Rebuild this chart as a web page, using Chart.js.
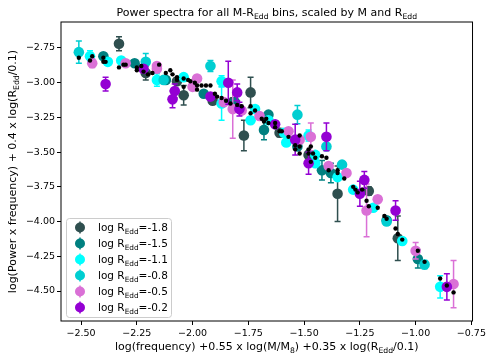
<!DOCTYPE html>
<html>
<head>
<meta charset="utf-8">
<script src="https://cdn.jsdelivr.net/npm/chart.js@4/dist/chart.umd.min.js"></script>
<style>
	html, body { margin: 0; padding: 0; background: #fff; }
</style>
</head>
<body>
<canvas id="chart" width="489" height="358"></canvas>
<script>
// axis limits and ticks
const xMin = -2.59, xMax = -0.745;
const yMin = -4.716, yMax = -2.563;
const xTicks = [-2.5, -2.25, -2.0, -1.75, -1.5, -1.25, -1.0, -0.75];
const yTicks = [-2.75, -3.0, -3.25, -3.5, -3.75, -4.0, -4.25, -4.5];

// log REdd = -1.8
const r18X = [-2.33, -2.21, -2.07, -2.04, -1.91, -1.82, -1.74, -1.77, -1.61, -1.48, -1.35, -1.21, -1.08];
const r18Y = [-2.72, -2.93, -2.99, -3.09, -3.13, -3.14, -3.07, -3.38, -3.36, -3.52, -3.80, -3.78, -4.12];
const r18Err = [0.05, 0.05, 0.02, 0.07, 0.02, 0.03, 0.11, 0.11, 0.03, 0.03, 0.20, 0.03, 0.16];

// log REdd = -1.5
const r15X = [-2.40, -2.26, -2.12, -1.95, -1.81, -1.66, -1.68, -1.53, -1.42, -1.38, -1.13, -0.99];
const r15Y = [-2.81, -2.86, -2.98, -3.08, -3.14, -3.23, -3.34, -3.46, -3.63, -3.65, -3.99, -4.27];
const r15Err = [0.02, 0.02, 0.02, 0.02, 0.02, 0.02, 0.07, 0.02, 0.07, 0.07, 0.02, 0.065];

// log REdd = -1.1
const r11X = [-2.46, -2.38, -2.32, -2.16, -2.04, -1.87, -1.87, -1.74, -1.72, -1.66, -1.59, -1.58, -1.48, -1.45, -1.45, -1.35, -1.28, -1.19, -1.06, -0.89];
const r11Y = [-2.81, -2.85, -2.84, -2.98, -2.96, -2.99, -3.15, -3.27, -3.19, -3.27, -3.36, -3.43, -3.38, -3.52, -3.58, -3.68, -3.77, -3.90, -4.14, -4.47];
const r11Err = [0.04, 0.02, 0.02, 0.045, 0.02, 0.04, 0.12, 0.02, 0.02, 0.02, 0.02, 0.02, 0.04, 0.02, 0.02, 0.02, 0.02, 0.02, 0.02, 0.08];

// log REdd = -0.8
const r08X = [-2.51, -2.21, -2.13, -1.92, -1.53, -1.40, -1.33, -1.13, -0.96];
const r08Y = [-2.78, -2.85, -2.98, -2.88, -3.23, -3.46, -3.59, -4.00, -4.31];
const r08Err = [0.08, 0.06, 0.02, 0.04, 0.065, 0.02, 0.02, 0.02, 0.03];

// log REdd = -0.5
const r05X = [-2.45, -2.30, -2.16, -2.16, -2.00, -1.98, -1.82, -1.86, -1.78, -1.70, -1.57, -1.52, -1.47, -1.39, -1.31, -1.22, -1.17, -1.00, -0.83];
const r05Y = [-2.86, -2.86, -2.88, -2.90, -3.03, -2.97, -3.19, -3.14, -3.20, -3.24, -3.35, -3.41, -3.39, -3.60, -3.65, -3.92, -3.84, -4.21, -4.45];
const r05Err = [0.03, 0.02, 0.02, 0.02, 0.02, 0.02, 0.21, 0.02, 0.02, 0.02, 0.02, 0.02, 0.1, 0.02, 0.02, 0.19, 0.02, 0.06, 0.17];

// log REdd = -0.2
const r02X = [-2.39, -2.22, -2.08, -2.09, -1.92, -1.84, -1.80, -1.79, -1.63, -1.54, -1.48, -1.40, -1.23, -1.25, -1.09, -0.86];
const r02Y = [-3.01, -2.90, -3.06, -3.12, -3.10, -3.00, -3.07, -3.19, -3.30, -3.41, -3.58, -3.39, -3.70, -3.80, -3.92, -4.47];
const r02Err = [0.05, 0.02, 0.05, 0.06, 0.02, 0.155, 0.06, 0.05, 0.02, 0.11, 0.08, 0.1, 0.06, 0.09, 0.07, 0.095];

// small black points
const modelX = [-2.51, -2.46, -2.45, -2.40, -2.39, -2.40, -2.33, -2.31, -2.30, -2.25, -2.23, -2.25, -2.22, -2.20, -2.18, -2.15,
	-2.12, -2.10, -2.09, -2.07, -2.07, -2.04, -2.02, -2.01, -2.04, -1.99, -1.98, -1.96, -1.94, -1.92, -1.98, -1.90, -1.89,
	-1.87, -1.85, -1.83, -1.80, -1.78, -1.74, -1.74, -1.72, -1.69, -1.68, -1.67, -1.66, -1.63, -1.63, -1.61, -1.60, -1.57,
	-1.52, -1.54, -1.52, -1.54, -1.52, -1.48, -1.47, -1.48, -1.46, -1.47, -1.45, -1.42, -1.40, -1.39, -1.35, -1.35, -1.32,
	-1.28, -1.27, -1.26, -1.24, -1.22, -1.21, -1.17, -1.14, -1.13, -1.09, -1.08, -1.06, -0.99, -0.96, -0.89, -0.86, -0.83];
const modelY = [-2.82, -2.84, -2.81, -2.82, -2.85, -2.85, -2.89, -2.87, -2.87, -2.89, -2.88, -2.91, -2.92, -2.94, -2.93, -2.87,
	-2.93, -2.91, -2.94, -2.96, -2.98, -2.97, -2.98, -2.99, -3.03, -3.00, -3.02, -3.02, -3.02, -3.02, -3.05, -3.08, -3.10,
	-3.11, -3.13, -3.15, -3.16, -3.17, -3.22, -3.17, -3.20, -3.26, -3.28, -3.26, -3.29, -3.29, -3.32, -3.35, -3.35, -3.39,
	-3.38, -3.45, -3.46, -3.48, -3.51, -3.48, -3.46, -3.51, -3.51, -3.57, -3.54, -3.53, -3.54, -3.63, -3.63, -3.65, -3.69,
	-3.75, -3.77, -3.79, -3.77, -3.85, -3.89, -3.90, -3.96, -3.98, -4.05, -4.09, -4.13, -4.21, -4.29, -4.41, -4.46, -4.51];

const seriesLabels = ["-1.8", "-1.5", "-1.1", "-0.8", "-0.5", "-0.2"];
const seriesColors = ["#2F4F4F", "#008080", "#00FFFF", "#00CED1", "#DA70D6", "#9400D3"];

const FONT = '"DejaVu Sans", sans-serif';

function toPoints(xs, ys) {
	return xs.map((x, i) => ({ x: x, y: ys[i] }));
}

function fmt(v) {
	return v.toFixed(2).replace("-", "\u2212");
}

// draws text with subscript parts: [[text, isSub], ...]
function richText(ctx, parts, x, y, size, align) {
	let w = 0;
	parts.forEach((p) => {
		ctx.font = (p[1] ? size * 0.7 : size) + "px " + FONT;
		w += ctx.measureText(p[0]).width;
	});
	let cx = align === "center" ? x - w / 2 : x;
	ctx.textAlign = "left";
	ctx.textBaseline = "alphabetic";
	parts.forEach((p) => {
		const s = p[1] ? size * 0.7 : size;
		ctx.font = s + "px " + FONT;
		ctx.fillText(p[0], cx, p[1] ? y + size * 0.25 : y);
		cx += ctx.measureText(p[0]).width;
	});
}

const errorBars = {
	id: "errorBars",
	beforeDatasetDraw(chart, args) {
		const ds = chart.data.datasets[args.index];
		if (!ds.errors) return;
		const ctx = chart.ctx;
		const xs = chart.scales.x, ys = chart.scales.y;
		ctx.save();
		ctx.strokeStyle = ds.backgroundColor;
		ctx.lineWidth = 1.5;
		ds.data.forEach((p, i) => {
			const px = xs.getPixelForValue(p.x);
			const top = ys.getPixelForValue(p.y + ds.errors[i]);
			const bot = ys.getPixelForValue(p.y - ds.errors[i]);
			ctx.beginPath();
			ctx.moveTo(px, top);
			ctx.lineTo(px, bot);
			ctx.moveTo(px - 3, top);
			ctx.lineTo(px + 3, top);
			ctx.moveTo(px - 3, bot);
			ctx.lineTo(px + 3, bot);
			ctx.stroke();
		});
		ctx.restore();
	},
};

const decorations = {
	id: "decorations",
	afterDraw(chart) {
		const ctx = chart.ctx;
		const a = chart.chartArea;
		ctx.save();
		// frame
		ctx.strokeStyle = "#000";
		ctx.lineWidth = 1;
		ctx.strokeRect(a.left, a.top, a.right - a.left, a.bottom - a.top);

		ctx.fillStyle = "#000";
		// title
		richText(ctx, [["Power spectra for all M-R", false], ["Edd", true], [" bins, scaled by M and R", false], ["Edd", true]],
			(a.left + a.right) / 2, 16, 11, "center");
		// x label
		richText(ctx, [["log(frequency) +0.55 x log(M/M", false], ["8", true], [") +0.35 x log(R", false], ["Edd", true], ["/0.1)", false]],
			(a.left + a.right) / 2, 350, 11, "center");
		// y label
		ctx.save();
		ctx.translate(16, (a.top + a.bottom) / 2);
		ctx.rotate(-Math.PI / 2);
		richText(ctx, [["log(Power x frequency) + 0.4 x log(R", false], ["Edd", true], ["/0.1)", false]], 0, 0, 11, "center");
		ctx.restore();

		// legend
		const lx = 66, ly = 218, lw = 105, lh = 99;
		ctx.fillStyle = "rgba(255,255,255,0.8)";
		ctx.strokeStyle = "#cccccc";
		ctx.lineWidth = 1;
		ctx.beginPath();
		ctx.roundRect(lx + 0.5, ly + 0.5, lw, lh, 3);
		ctx.fill();
		ctx.stroke();
		seriesLabels.forEach((lab, i) => {
			const y = 227.5 + i * 16;
			ctx.strokeStyle = seriesColors[i];
			ctx.fillStyle = seriesColors[i];
			ctx.lineWidth = 1.5;
			ctx.beginPath();
			ctx.moveTo(80, y - 6);
			ctx.lineTo(80, y + 6);
			ctx.stroke();
			ctx.beginPath();
			ctx.arc(80, y, 5, 0, Math.PI * 2);
			ctx.fill();
			ctx.fillStyle = "#000";
			richText(ctx, [["log R", false], ["Edd", true], ["=" + lab, false]], 98, y + 3.8, 10.5, "left");
		});
		ctx.restore();
	},
};

const seriesData = [
	[r18X, r18Y, r18Err],
	[r15X, r15Y, r15Err],
	[r11X, r11Y, r11Err],
	[r08X, r08Y, r08Err],
	[r05X, r05Y, r05Err],
	[r02X, r02Y, r02Err],
];

const datasets = seriesData.map((s, i) => ({
	label: "log REdd=" + seriesLabels[i],
	data: toPoints(s[0], s[1]),
	errors: s[2],
	backgroundColor: seriesColors[i],
	borderWidth: 0,
	pointRadius: 5.3,
	order: 6 - i,
}));

datasets.push({
	label: "model",
	data: toPoints(modelX, modelY),
	backgroundColor: "#000",
	borderWidth: 0,
	pointRadius: 2.2,
	order: 0,
});

const tickFont = { family: FONT, size: 9.5 };

new Chart(document.getElementById("chart").getContext("2d"), {
	type: "scatter",
	data: { datasets: datasets },
	options: {
		responsive: false,
		animation: false,
		layout: { padding: { top: 22, right: 16, left: 0, bottom: 0 } },
		plugins: { legend: { display: false }, tooltip: { enabled: false } },
		scales: {
			x: {
				type: "linear",
				min: xMin,
				max: xMax,
				afterBuildTicks: (s) => { s.ticks = xTicks.map((v) => ({ value: v })); },
				afterFit: (s) => { s.height = 37; },
				ticks: { callback: (v) => fmt(v), font: tickFont, color: "#000", padding: 3, maxRotation: 0, autoSkip: false },
				grid: { drawOnChartArea: false, drawTicks: true, tickLength: 4, color: "#000" },
				border: { display: false },
			},
			y: {
				type: "linear",
				min: yMin,
				max: yMax,
				afterBuildTicks: (s) => { s.ticks = yTicks.map((v) => ({ value: v })); },
				afterFit: (s) => { s.width = 61; },
				ticks: { callback: (v) => fmt(v), font: tickFont, color: "#000", padding: 2, autoSkip: false },
				grid: { drawOnChartArea: false, drawTicks: true, tickLength: 4, color: "#000" },
				border: { display: false },
			},
		},
	},
	plugins: [errorBars, decorations],
});
</script>
</body>
</html>
